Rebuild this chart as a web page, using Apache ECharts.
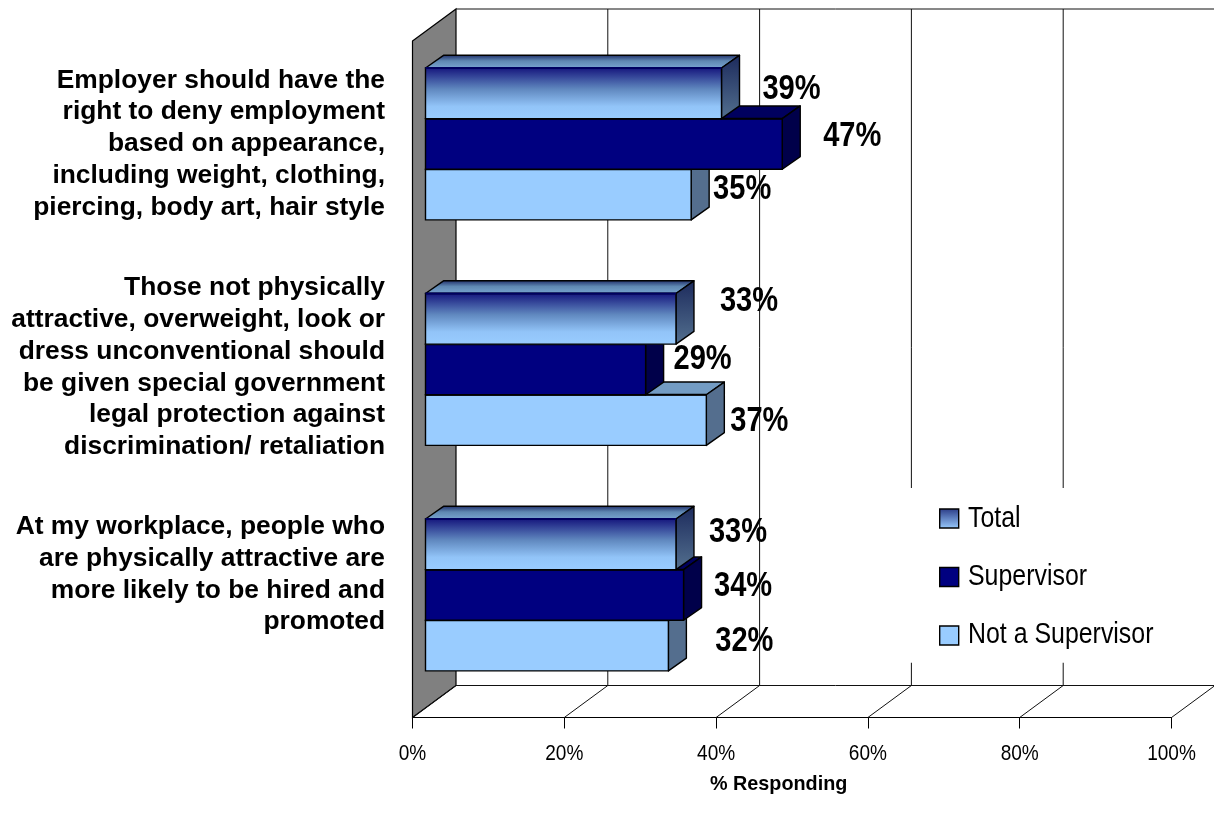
<!DOCTYPE html>
<html>
<head>
<meta charset="utf-8">
<style>html,body{margin:0;padding:0;background:#fff}#c{width:1214px;height:823px}</style>
<script src="https://cdn.jsdelivr.net/npm/echarts@6/dist/echarts.min.js"></script>
</head>
<body>
<div id="c"></div>
<script>
const categories = [
  "Employer should have the\nright to deny employment\nbased on appearance,\nincluding weight, clothing,\npiercing, body art, hair style",
  "Those not physically\nattractive, overweight, look or\ndress unconventional should\nbe given special government\nlegal protection against\ndiscrimination/ retaliation",
  "At my workplace, people who\nare physically attractive are\nmore likely to be hired and\npromoted"
];
const total = [39, 33, 33];
const supervisor = [47, 29, 34];
const notSupervisor = [35, 37, 32];
const xTicks = [0, 20, 40, 60, 80, 100];
const legendNames = ['Total', 'Supervisor', 'Not a Supervisor'];

// layout constants (oblique projection of the pseudo-3D frame, in px)
const WALL = [43.5, -32], BAR_START = [13, -9.8], BAR_DEPTH = [18, -12.7], BAR_SHARE = 0.2245;
const SANS = '"Liberation Sans",Arial,sans-serif';
const SQUEEZE = 0.83;
const labelShift = [-9.5, -11.5, -30];
const nudgeTotal = [[70,-3.7],[73,-17.7],[62,-12.2]];
const nudgeSup = [[70,-7.2],[57,-9.7],[59.5,-8.7]];
const nudgeNot = [[51,-5.7],[53,1.3],[76,-4.7]];

const vGrad = (stops) => ({type:'linear',x:0,y:0,x2:0,y2:1,
  colorStops: stops.map(s => ({offset:s[0],color:s[1]}))});

const styleTotal = {
  front: vGrad([[0,'#14147c'],[0.42,'#6088bf'],[0.75,'#92c4f8'],[1,'#99ccff']]),
  top: vGrad([[0,'#1d2a66'],[0.45,'#5f88b2'],[1,'#7aa6d2']]),
  side: vGrad([[0,'#1c2a5c'],[1,'#53708f']]),
  frontStroke: '#000060'
};
const styleSup = {front:'#000080', top:'#00005e', side:'#00004a', frontStroke:'#000'};
const styleNot = {front:'#99ccff', top:'#739cc4', side:'#546e8e', frontStroke:'#000'};

function barSeries(name, values, slot, look, nudges, z) {
  return {
    type: 'custom', name, z, clip: false, silent: true,
    coordinateSystem: 'cartesian2d',
    encode: {x: 0, y: 1},
    data: values.map((v, i) => [v, i]),
    renderItem(params, api) {
      const v = api.value(0), i = api.value(1);
      const band = api.size([0, 1])[1];
      const p0 = api.coord([0, i]), p1 = api.coord([v, i]);
      const h = band * BAR_SHARE;
      const x0 = p0[0] + BAR_START[0], x1 = p1[0] + BAR_START[0];
      const yT = p0[1] + BAR_START[1] + (slot - 1.5) * h, yB = yT + h;
      const dx = BAR_DEPTH[0], dy = BAR_DEPTH[1];
      const stroke = {stroke: '#000', lineWidth: 1.4, lineJoin: 'round'};
      const n = nudges[params.dataIndex];
      return {type: 'group', children: [
        {type:'polygon', shape:{points:[[x0,yT],[x0+dx,yT+dy],[x1+dx,yT+dy],[x1,yT]]},
          style:Object.assign({fill:look.top}, stroke)},
        {type:'polygon', shape:{points:[[x1,yT],[x1+dx,yT+dy],[x1+dx,yB+dy],[x1,yB]]},
          style:Object.assign({fill:look.side}, stroke)},
        {type:'rect', shape:{x:x0,y:yT,width:x1-x0,height:h},
          style:{fill:look.front, stroke:'#000', lineWidth:1.4}},
        {type:'line', shape:{x1:x0,y1:yT,x2:x1,y2:yT}, style:{stroke:look.frontStroke, lineWidth:2}},
        {type:'text', x:x1+n[0], y:(yT+yB)/2+n[1], z2:50, scaleX:SQUEEZE,
          style:{text:v+'%', font:'bold 35px '+SANS, fill:'#000', align:'center', verticalAlign:'middle'}}
      ]};
    }
  };
}

const frameSeries = {
  type:'custom', name:'frame', z:1, silent:true, clip:false,
  coordinateSystem:'cartesian2d', encode:{x:0,y:1},
  data:[[0,0]],
  renderItem(params, api) {
    const cs = params.coordSys;
    const top = cs.y, bot = cs.y + cs.height;
    const [wx, wy] = WALL;
    const left = api.coord([0,0])[0], right = api.coord([100,0])[0];
    const ls = {stroke:'#111', lineWidth:1};
    const kids = [
      {type:'polygon', shape:{points:[[left,top],[left+wx,top+wy],[left+wx,bot+wy],[left,bot]]},
        style:{fill:'#808080', stroke:'#000', lineWidth:1.2}},
      {type:'line', shape:{x1:left+wx,y1:top+wy,x2:right+wx,y2:top+wy}, style:ls},
      {type:'line', shape:{x1:left+wx,y1:bot+wy,x2:right+wx,y2:bot+wy}, style:ls}
    ];
    xTicks.forEach(t => {
      const x = api.coord([t,0])[0];
      kids.push({type:'line', shape:{x1:x,y1:bot,x2:x+wx,y2:bot+wy}, style:ls});
      if (t > 0) kids.push({type:'line', shape:{x1:x+wx,y1:top+wy,x2:x+wx,y2:bot+wy}, style:ls});
      kids.push({type:'text', x:x, y:bot+36, scaleX:SQUEEZE*1.02,
        style:{text:t+'%', font:'22.5px '+SANS, fill:'#000', align:'center', verticalAlign:'middle'}});
    });
    return {type:'group', children:kids};
  }
};

const labelSeries = {
  type:'custom', name:'categoryLabels', z:6, silent:true, clip:false,
  coordinateSystem:'cartesian2d', encode:{x:0,y:1},
  data: categories.map((c,i) => [0,i]),
  renderItem(params, api) {
    const i = api.value(1);
    const p = api.coord([0,i]);
    return {type:'text', x:p[0]-27.5, y:p[1]+labelShift[i], scaleX:1.055,
      style:{text:categories[i], font:'bold 25px '+SANS, lineHeight:31.8, fill:'#000', align:'right', verticalAlign:'middle'}};
  }
};

const legendIcons = [vGrad([[0,'#2a3a85'],[1,'#99ccff']]), '#000080', '#99ccff'];
const chart = echarts.init(document.getElementById('c'), null, {renderer:'canvas'});
chart.setOption({
  animation:false,
  backgroundColor:'#fff',
  title:{text:'% Responding', left:710, top:775, padding:0,
    textStyle:{fontFamily:SANS, fontWeight:'bold', fontSize:19.8, color:'#000'}},
  grid:{left:412.5, top:41, width:759, height:676.5, containLabel:false},
  xAxis:{type:'value', min:0, max:100, interval:20,
    axisLine:{show:true, lineStyle:{color:'#000', width:1}},
    axisTick:{show:true, length:11, lineStyle:{color:'#000'}},
    splitLine:{show:false},
    axisLabel:{show:false}},
  yAxis:{type:'category', inverse:true, data:categories,
    axisLine:{show:false}, axisTick:{show:false}, axisLabel:{show:false}, splitLine:{show:false}},
  legend:{
    orient:'vertical', left:905, top:488, padding:[20.3,200,17,34],
    backgroundColor:'#fff', selectedMode:false, z:10,
    itemWidth:19, itemHeight:19, itemGap:38.1,
    formatter:() => ' ',
    textStyle:{fontSize:10},
    data:legendNames.map((name,i) => ({name, icon:'rect',
      itemStyle:{color:legendIcons[i], borderColor:'#000', borderWidth:1.4}}))
  },
  graphic:legendNames.map((name,i) => ({
    type:'text', left:968, top:[504,561.5,620][i], z:20, silent:true, scaleX:SQUEEZE,
    style:{text:name, font:'30px '+SANS, fill:'#000'}
  })),
  series:[
    frameSeries,
    barSeries('Total', total, 0, styleTotal, nudgeTotal, 5),
    barSeries('Supervisor', supervisor, 1, styleSup, nudgeSup, 4),
    barSeries('Not a Supervisor', notSupervisor, 2, styleNot, nudgeNot, 3),
    labelSeries
  ]
});
</script>
</body>
</html>
